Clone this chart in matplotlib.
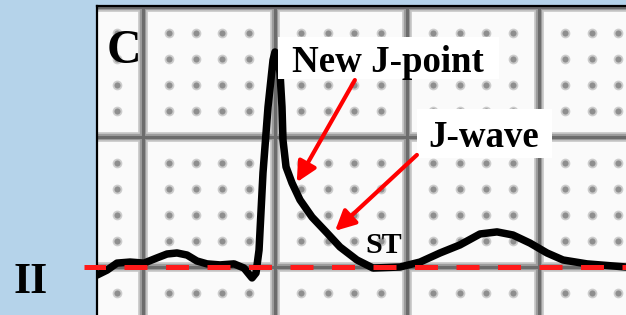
import numpy as np
import matplotlib.pyplot as plt
from matplotlib.patches import Rectangle

# ECG lead II trace (time in s, amplitude in mV), 25 mm/s, 10 mm/mV
t = [0.1303, 0.1455, 0.1606, 0.1803, 0.2015, 0.2212, 0.2364, 0.2515, 0.2667, 0.2818,
     0.2970, 0.3167, 0.3379, 0.3530, 0.3652, 0.3712, 0.3758, 0.3818, 0.3894, 0.3970,
     0.4000, 0.4045, 0.4076, 0.4106, 0.4121, 0.4167, 0.4258, 0.4379, 0.4561, 0.4788,
     0.4985, 0.5242, 0.5485, 0.5894, 0.6197, 0.6500, 0.6803, 0.7106, 0.7364, 0.7606,
     0.7864, 0.8121, 0.8364, 0.8727, 0.9121, 0.9318]
mv = [-0.031, -0.012, 0.015, 0.019, 0.015, 0.035, 0.050, 0.054, 0.046, 0.023,
      0.012, 0.008, 0.012, -0.004, -0.042, -0.023, 0.065, 0.362, 0.615, 0.796,
      0.827, 0.804, 0.746, 0.615, 0.488, 0.385, 0.323, 0.258, 0.192, 0.131,
      0.077, 0.027, -0.004, 0.000, 0.019, 0.054, 0.085, 0.127, 0.135, 0.123,
      0.092, 0.054, 0.027, 0.012, 0.004, 0.000]

baseline = 0.0
baseline_start = 0.1106

# annotation arrows: (tail, tip)
jpoint_arrow = [(0.521, 0.719), (0.433, 0.326)]
jwave_arrow = [(0.615, 0.431), (0.491, 0.139)]

big_t = [0.2, 0.4, 0.6, 0.8]
big_mv = [0.0, 0.5, 1.0]

t_lim = (0.1303, 0.9318)
mv_lim = (-0.1846, 1.0038)

serif = 'Liberation Serif'
blue = '#b5d3ea'

fig = plt.figure(figsize=(6.26, 3.15), dpi=100, facecolor=blue)
ax = fig.add_axes([97 / 626, 0, 529 / 626, 309 / 315])
ax.set_facecolor('#fafafa')
ax.set_xlim(*t_lim)
ax.set_ylim(*mv_lim)
ax.set_xticks([])
ax.set_yticks([])
for s in ['right', 'bottom']:
    ax.spines[s].set_visible(False)
for s in ['top', 'left']:
    ax.spines[s].set_linewidth(1.6)
    ax.spines[s].set_color('black')

# paper grid: thick blurred lines every 5 mm, dots every 1 mm
for lw, c in [(7, '#c8c8c8'), (4.5, '#9c9c9c'), (2.2, '#6c6c6c')]:
    for x in big_t:
        ax.axvline(x, color=c, lw=lw, zorder=1)
    for y in big_mv:
        ax.axhline(y, color=c, lw=lw, zorder=1)

dot_t = np.arange(0.04, 0.96, 0.04)
dot_mv = np.arange(-0.1, 1.0, 0.1)
gx, gy = np.meshgrid(dot_t, dot_mv)
keep = (np.abs(np.round(gx / 0.2) * 0.2 - gx) > 1e-6) & (np.abs(np.round(gy / 0.5) * 0.5 - gy) > 1e-6)
ax.plot(gx[keep], gy[keep], 'o', color='#cccccc', ms=7, mec='none', zorder=1)
ax.plot(gx[keep], gy[keep], 'o', color='#8e8e8e', ms=4.4, mec='none', zorder=1)

# trace
ax.plot(t, mv, color='black', lw=5.4, solid_joinstyle='round', solid_capstyle='round', zorder=3)

# isoelectric line
ax.plot([baseline_start, t_lim[1]], [baseline, baseline], color='#ff1a1a', lw=3.6,
        linestyle=(0.3, (4.6, 3.7)), dash_capstyle='butt', clip_on=False, zorder=4)

# label boxes
ax.add_patch(Rectangle((0.4045, 0.723), 0.7394 - 0.4045, 0.885 - 0.723, fc='white', ec='none', zorder=5))
ax.add_patch(Rectangle((0.6152, 0.419), 0.8197 - 0.6152, 0.608 - 0.419, fc='white', ec='none', zorder=5))

ax.text(0.5712, 0.75, 'New J-point', fontsize=26.6, fontfamily=serif, fontweight='bold',
        ha='center', va='baseline', zorder=6)
ax.text(0.7167, 0.4615, 'J-wave', fontsize=26.6, fontfamily=serif, fontweight='bold',
        ha='center', va='baseline', zorder=6)
ax.text(0.5644, 0.054, 'ST', fontsize=21.6, fontfamily=serif, fontweight='bold',
        ha='center', va='baseline', zorder=6)
ax.text(0.1705, 0.785, 'C', fontsize=34.5, fontfamily=serif, fontweight='bold',
        ha='center', va='baseline', zorder=6)

for tail, tip in [jpoint_arrow, jwave_arrow]:
    ax.annotate('', xy=tip, xytext=tail,
                arrowprops=dict(arrowstyle='-|>,head_length=0.6,head_width=0.3', color='#ff0000',
                                lw=3, mutation_scale=20, shrinkA=0, shrinkB=0), zorder=6)

fig.text(31 / 626, 1 - 293 / 315, 'II', fontsize=31.5, fontfamily=serif, fontweight='bold',
         ha='center', va='baseline')

fig.savefig('out.png', dpi=100, facecolor=blue)
